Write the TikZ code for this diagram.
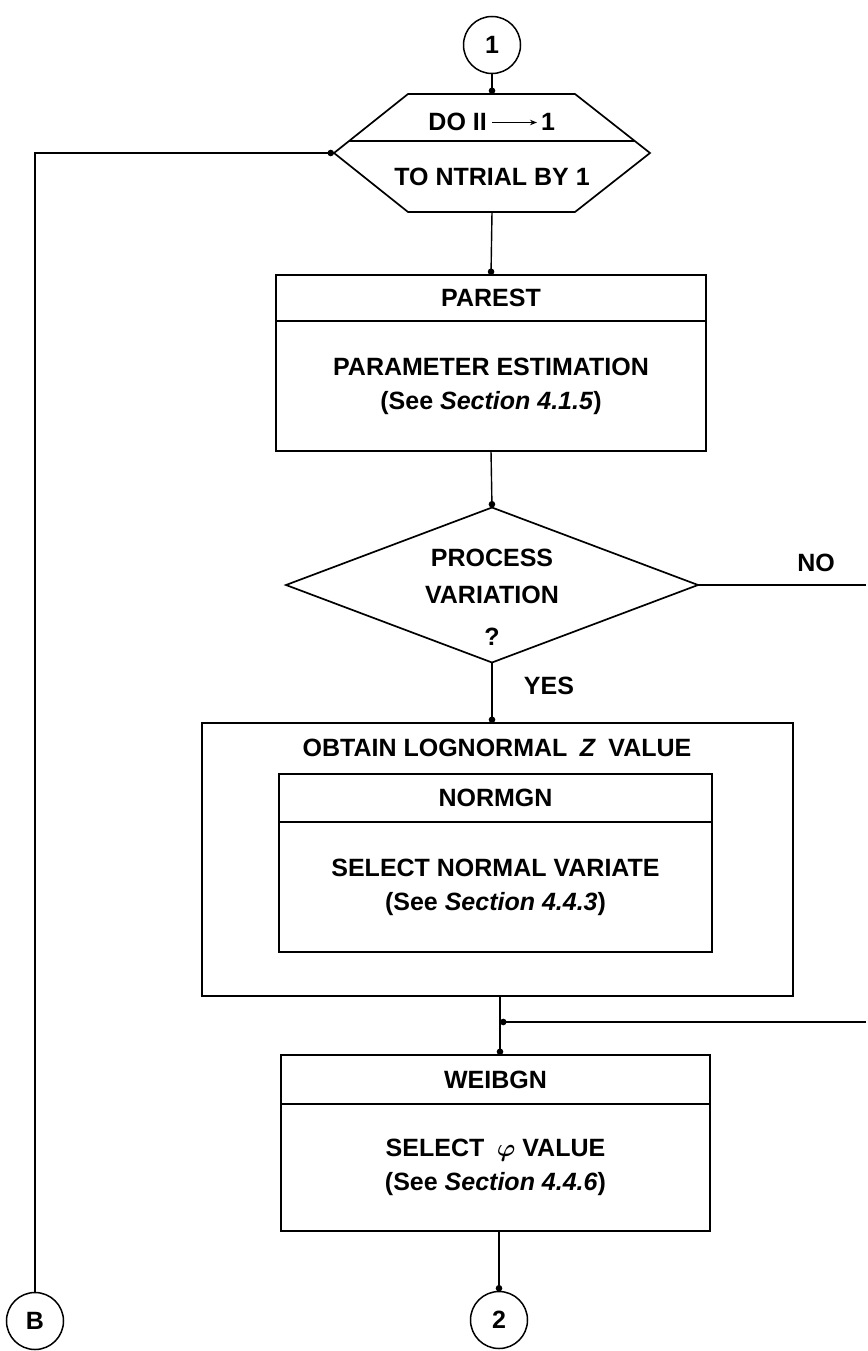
\documentclass[tikz,border=0pt]{standalone}
\usepackage{fontspec}
\setmainfont{Liberation Sans}
\usepackage{bm}
\usetikzlibrary{arrows.meta,calc}
\begin{document}
\begin{tikzpicture}[x=1pt,y=-1pt,
  every node/.style={font=\bfseries\fontsize{25}{34}\selectfont},
  line/.style={line width=1.4pt},
  dotend/.style={line width=1.4pt,-{Circle[length=6.5pt,width=6.5pt]}},
  shapeline/.style={line width=1.7pt,line join=miter},
  box/.style={draw,line width=1.7pt,inner sep=0pt,outer sep=0pt,align=center},
  conn/.style={draw,circle,line width=1.5pt,minimum size=57pt,inner sep=0pt,outer sep=0pt},
  txt/.style={inner sep=0pt}]
\useasboundingbox (0,0) rectangle (867,1351);

% connector 1
\node[conn] (c1) at (492,45) {1};

% loop hexagon
\node[inner sep=0pt,outer sep=0pt,minimum width=316pt,minimum height=118pt] (hex) at (492,153) {};
\draw[shapeline] ($(hex.north)+(-84,0)$) -- ($(hex.north)+(83,0)$) -- (hex.east)
  -- ($(hex.south)+(83,0)$) -- ($(hex.south)+(-84,0)$) -- (hex.west) -- cycle;
\draw[shapeline] ($(hex.center)+(-143,-12)$) -- ($(hex.center)+(143,-12)$);
\node[txt,anchor=base east] (doii) at (487,131) {DO II};
\node[txt,anchor=base west] (doone) at (541,131) {1};
\draw[line width=1.4pt,-{Stealth[length=7pt,width=5.5pt]}] ($(doii.base east)+(5,-8.5)$) -- ($(doone.base west)+(-4,-8.5)$);
\node[txt] (ntrial) at (492,177) {TO NTRIAL BY 1};

% PAREST
\node[box,minimum width=430pt,minimum height=46pt] (parest) at (491,298) {PAREST};
\node[box,minimum width=430pt,minimum height=130pt,anchor=north] (parestb) at (parest.south)
  {PARAMETER ESTIMATION\\(See \textit{Section 4.1.5})};

% decision
\node[inner sep=0pt,outer sep=0pt,minimum width=412pt,minimum height=155pt] (dia) at (492,585) {};
\draw[shapeline] (dia.north) -- (dia.east) -- (dia.south) -- (dia.west) -- cycle;
\node[txt] (proc) at (492,558) {PROCESS};
\node[txt] (var) at (492,595) {VARIATION};
\node[txt] (q) at (492,637) {?};
\node[txt] (no) at (816,563) {NO};
\node[txt] (yes) at (549,686) {YES};
\coordinate (noend) at (866,585);

% outer box
\node[box,minimum width=591pt,minimum height=273pt] (outer) at (497.5,859.5) {};
\node[txt] (obtain) at (497,748) {OBTAIN LOGNORMAL\enspace\textit{Z}\enspace VALUE};
\node[box,minimum width=433pt,minimum height=48pt] (normgn) at (495.5,798) {NORMGN};
\node[box,minimum width=433pt,minimum height=130pt,anchor=north] (normgnb) at (normgn.south)
  {SELECT NORMAL VARIATE\\(See \textit{Section 4.4.3})};

% WEIBGN
\node[box,minimum width=429pt,minimum height=49pt] (weib) at (495.5,1079.5) {WEIBGN};
\node[box,minimum width=429pt,minimum height=127pt,anchor=north] (weibb) at (weib.south)
  {SELECT\enspace$\bm{\varphi}$ VALUE\\(See \textit{Section 4.4.6})};

\coordinate (mergept) at (500,1022);
\coordinate (retend) at (866,1022);

% bottom connectors
\node[conn] (c2) at (499,1320) {2};
\node[conn] (cb) at (35,1321) {B};

% connectors
\draw[dotend] (c1.south) -- (hex.north);
\draw[dotend] (hex.south) -- (parest.north);
\draw[dotend] (parestb.south) -- (dia.north);
\draw[line] (dia.east) -- (noend);
\draw[dotend] (dia.south) -- (dia.south |- outer.north);
\draw[dotend] (outer.south -| mergept) -- (weib.north -| mergept);
\draw[dotend] (retend) -- (mergept);
\draw[dotend] (weibb.south -| c2.north) -- (c2.north);
\draw[dotend] (cb.north) |- (hex.west);
\end{tikzpicture}
\end{document}
